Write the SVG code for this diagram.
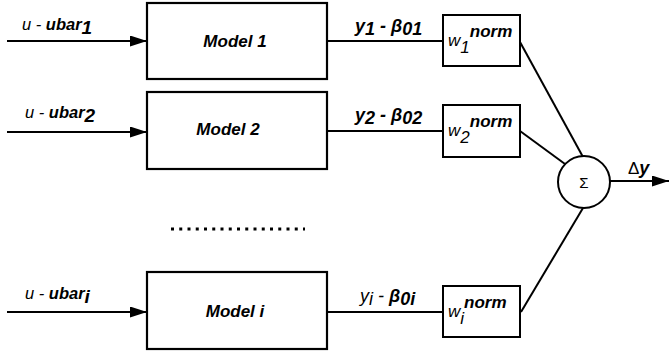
<svg xmlns="http://www.w3.org/2000/svg" width="669" height="354" viewBox="0 0 669 354">
  <defs>
    <marker id="arrow" markerUnits="userSpaceOnUse" markerWidth="18" markerHeight="12" refX="17" refY="5.5" orient="auto">
      <path d="M0,0 L17,5.5 L0,11 Z" fill="#000"/>
    </marker>
    <style>
      .box { fill: #fff; stroke: #000; stroke-width: 2.2; }
      .wbox { fill: #fff; stroke: #000; stroke-width: 2; }
      .wire { fill: none; stroke: #000; stroke-width: 2; }
      .t { font-family: "Liberation Sans", Arial, sans-serif; fill: #000; }
      .model { font-size: 17px; font-weight: bold; font-style: italic; }
      .in { font-size: 16.5px; font-style: italic; }
      .out { font-size: 18px; font-style: italic; font-weight: bold; }
      .w { font-size: 17px; font-style: italic; }
      .b { font-weight: bold; }
      .n { font-weight: normal; }
    </style>
  </defs>

  <!-- connectors -->
  <g id="connectors">
    <line class="wire" x1="7" y1="41" x2="147" y2="41" marker-end="url(#arrow)"/>
    <line class="wire" x1="7" y1="132" x2="147" y2="132" marker-end="url(#arrow)"/>
    <line class="wire" x1="7" y1="312" x2="147" y2="312" marker-end="url(#arrow)"/>
    <line class="wire" x1="327" y1="41" x2="443" y2="41"/>
    <line class="wire" x1="327" y1="131" x2="443" y2="131"/>
    <line class="wire" x1="327" y1="312" x2="443" y2="312"/>
    <line class="wire" x1="520" y1="42" x2="583" y2="157"/>
    <line class="wire" x1="520" y1="131" x2="565" y2="164"/>
    <line class="wire" x1="521" y1="312" x2="583" y2="208"/>
    <line class="wire" x1="610" y1="181" x2="669" y2="181" marker-end="url(#arrow)"/>
    <line stroke="#000" stroke-width="3" stroke-dasharray="3 5.25" x1="171" y1="229" x2="305" y2="229"/>
  </g>

  <!-- input labels -->
  <text class="t in" x="22" y="30">u - <tspan class="b">ubar</tspan><tspan class="b" font-size="19" dy="4">1</tspan></text>
  <text class="t in" x="25" y="118">u - <tspan class="b">ubar</tspan><tspan class="b" font-size="19" dy="4">2</tspan></text>
  <text class="t in" x="25" y="299">u - <tspan class="b">ubar</tspan><tspan class="b" font-size="19" dy="4">i</tspan></text>

  <!-- output labels -->
  <text class="t out" x="355" y="32">y<tspan dy="3">1</tspan><tspan dy="-3"> - β</tspan><tspan dy="3">01</tspan></text>
  <text class="t out" x="355" y="121">y<tspan dy="3">2</tspan><tspan dy="-3"> - β</tspan><tspan dy="3">02</tspan></text>
  <text class="t out n" x="360" y="302">y<tspan dy="3">i</tspan><tspan dy="-3"> - </tspan><tspan class="b">β</tspan><tspan class="b" dy="3">0i</tspan></text>

  <g id="model1">
    <rect class="box" x="147" y="3" width="180" height="76"/>
    <text class="t model" x="235" y="47" text-anchor="middle">Model 1</text>
  </g>
  <g id="model2">
    <rect class="box" x="147" y="92" width="180" height="77"/>
    <text class="t model" x="228" y="135" text-anchor="middle">Model 2</text>
  </g>
  <g id="modeli">
    <rect class="box" x="147" y="272" width="180" height="77"/>
    <text class="t model" x="235" y="317" text-anchor="middle">Model i</text>
  </g>

  <g id="w1">
    <rect class="wbox" x="443" y="15" width="77" height="51"/>
    <text class="t w" x="448" y="46">w<tspan dy="7">1</tspan><tspan class="b" dy="-16">norm</tspan></text>
  </g>
  <g id="w2">
    <rect class="wbox" x="443" y="105" width="77" height="52"/>
    <text class="t w" x="448" y="136">w<tspan dy="7">2</tspan><tspan class="b" dy="-16">norm</tspan></text>
  </g>
  <g id="wi">
    <rect class="wbox" x="443" y="286" width="77" height="51"/>
    <text class="t w" x="448" y="317">w<tspan dy="7">i</tspan><tspan class="b" dy="-16">norm</tspan></text>
  </g>

  <g id="sum">
    <circle cx="584" cy="182" r="26" fill="#fff" stroke="#000" stroke-width="2"/>
    <text class="t" x="584" y="188" font-size="15" text-anchor="middle">Σ</text>
  </g>

  <text class="t" x="628" y="174" font-size="17">Δ<tspan font-weight="bold" font-style="italic" font-size="18">y</tspan></text>
</svg>
